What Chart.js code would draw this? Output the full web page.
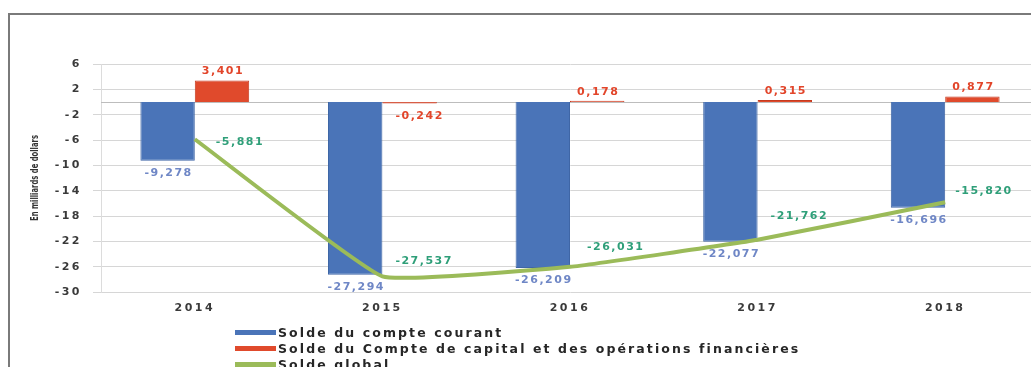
<!DOCTYPE html>
<html><head><meta charset="utf-8">
<script src="https://cdn.jsdelivr.net/npm/chart.js@4/dist/chart.umd.min.js"></script>
<style>
html,body{margin:0;padding:0;width:1031px;height:367px;overflow:hidden;background:#fff;}
#frame{position:absolute;left:8px;top:13px;width:1100px;height:400px;border-top:2px solid #7a7a7a;border-left:2px solid #7a7a7a;}
#wrap{position:absolute;left:0;top:0;width:1045px;height:367px;}
#legend{position:absolute;left:235px;top:324px;font:bold 12.5px "DejaVu Sans",sans-serif;letter-spacing:2.1px;color:#262626;}
.item{height:16px;display:flex;align-items:center;white-space:nowrap;}
.sw{width:41px;height:5px;margin-right:2px;flex:none;}
</style></head><body>
<div id="frame"></div>
<div id="wrap"><canvas id="c" width="1045" height="367"></canvas></div>
<div id="legend"></div>
<script>
const years = ['2014', '2015', '2016', '2017', '2018'];
const compteCourant = [-9.278, -27.294, -26.209, -22.077, -16.696];
const compteCapital = [3.401, -0.242, 0.178, 0.315, 0.877];
const soldeGlobal = [-5.881, -27.537, -26.031, -21.762, -15.820];
const yTicks = [6, 2, -2, -6, -10, -14, -18, -22, -26, -30];
const seriesNames = [
  'Solde du compte courant',
  'Solde du Compte de capital et des opérations financières',
  'Solde global'
];
const yTitle = 'En milliards de dollars';

const colBlue = '#4a74b8', colRed = '#e04a2c', colGreen = '#9bbb59';
const lblBlue = '#6f87c6', lblRed = '#e2452a', lblGreen = '#2f9f79';
const greenOffsets = [[21, 3], [13, -15], [17, -20], [13, -24], [10, -11]];

const fmt = v => v.toFixed(3).replace('.', ',');

const extras = {
  id: 'extras',
  beforeDraw(chart) { chart.ctx.letterSpacing = '2.5px'; },
  beforeDatasetsDraw(chart) {
    const { ctx, chartArea, scales } = chart;
    const y0 = scales.y.getPixelForValue(0);
    ctx.save();
    ctx.strokeStyle = '#bdbdbd';
    ctx.lineWidth = 1;
    ctx.beginPath();
    ctx.moveTo(chartArea.left, y0 + 0.5);
    ctx.lineTo(chartArea.right, y0 + 0.5);
    ctx.stroke();
    ctx.restore();
  },
  afterDatasetsDraw(chart) {
    const ctx = chart.ctx;
    ctx.save();
    ctx.letterSpacing = '1.5px';
    ctx.font = 'bold 11px "DejaVu Sans", sans-serif';
    ctx.textBaseline = 'middle';
    ctx.textAlign = 'center';
    chart.getDatasetMeta(0).data.forEach((el, i) => {
      ctx.fillStyle = lblBlue;
      ctx.fillText(fmt(compteCourant[i]), el.x + 1, el.y + 12);
    });
    chart.getDatasetMeta(1).data.forEach((el, i) => {
      ctx.fillStyle = lblRed;
      const v = compteCapital[i];
      ctx.fillText(fmt(v), el.x + (v < 0 ? 10 : 1), v < 0 ? el.y + 13 : el.y - 9);
    });
    ctx.textAlign = 'left';
    chart.getDatasetMeta(2).data.forEach((el, i) => {
      ctx.fillStyle = lblGreen;
      ctx.fillText(fmt(soldeGlobal[i]), el.x + greenOffsets[i][0], el.y + greenOffsets[i][1]);
    });
    ctx.restore();
  },
  afterDraw(chart) {
    const ctx = chart.ctx;
    ctx.letterSpacing = '0px';
    const { chartArea } = chart;
    ctx.save();
    ctx.translate(35, (chartArea.top + chartArea.bottom) / 2);
    ctx.rotate(-Math.PI / 2);
    ctx.font = 'bold 10px "DejaVu Sans Condensed", "DejaVu Sans", sans-serif';
    ctx.fillStyle = '#333';
    ctx.textAlign = 'center';
    ctx.textBaseline = 'middle';
    ctx.fillText(yTitle, 0, 0, 86);
    ctx.restore();
  }
};

const chart = new Chart(document.getElementById('c'), {
  type: 'bar',
  data: {
    labels: years,
    datasets: [
      { label: seriesNames[0], data: compteCourant, backgroundColor: colBlue, borderColor: '#3f66a6', borderWidth: 1, order: 2 },
      { label: seriesNames[1], data: compteCapital, backgroundColor: colRed, borderColor: '#c53b20', borderWidth: 1, order: 2 },
      { label: seriesNames[2], data: soldeGlobal, type: 'line', borderColor: colGreen, borderWidth: 4,
        pointRadius: 0, tension: 0.1, fill: false, order: 1 }
    ]
  },
  options: {
    responsive: false,
    animation: false,
    layout: { padding: { top: 64, left: 0, right: 6, bottom: 0 } },
    plugins: { legend: { display: false }, tooltip: { enabled: false } },
    datasets: { bar: { categoryPercentage: 0.58, barPercentage: 1.0 } },
    scales: {
      x: {
        grid: { display: false, drawTicks: false },
        border: { display: false },
        ticks: { padding: 10, color: '#3a3a3a', font: { family: '"DejaVu Sans", sans-serif', size: 11, weight: 'bold' } },
        afterFit(s) { s.height = 75; }
      },
      y: {
        min: -30, max: 6,
        afterBuildTicks(axis) { axis.ticks = yTicks.map(v => ({ value: v })); },
        grid: { color: '#d6d6d6', lineWidth: 1, tickLength: 8, tickColor: '#d6d6d6' },
        border: { display: true, color: '#dcdcdc' },
        ticks: { padding: 11, color: '#3a3a3a', font: { family: '"DejaVu Sans", sans-serif', size: 11, weight: 'bold' },
          callback: v => String(v) },
        afterFit(s) { s.width = 101; }
      }
    }
  },
  plugins: [extras]
});

const legend = document.getElementById('legend');
chart.data.datasets.forEach(ds => {
  const row = document.createElement('div');
  row.className = 'item';
  const sw = document.createElement('span');
  sw.className = 'sw';
  sw.style.background = ds.type === 'line' ? ds.borderColor : ds.backgroundColor;
  const t = document.createElement('span');
  t.textContent = ds.label;
  row.appendChild(sw); row.appendChild(t);
  legend.appendChild(row);
});
</script>
</body></html>
